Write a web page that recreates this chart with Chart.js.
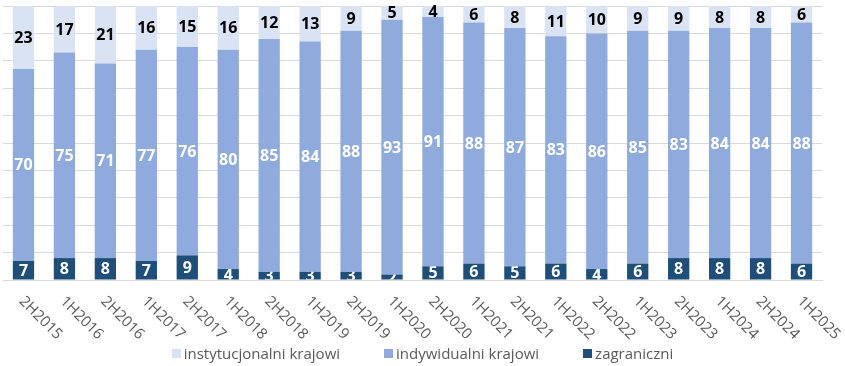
<!DOCTYPE html>
<html>
<head>
<meta charset="utf-8">
<script src="https://cdn.jsdelivr.net/npm/chart.js@4.4.1/dist/chart.umd.min.js"></script>
<style>
  body { margin: 0; background: #fff; }
  #wrap { position: relative; width: 845px; height: 366px; }
  #legend {
    position: absolute; left: 0; right: 0; top: 343px;
    display: flex; justify-content: center;
    font-family: "Open Sans", sans-serif; font-size: 15px; color: #595959;
    line-height: 20px;
  }
  .item { display: flex; align-items: center; margin: 0 22px; }
  .box { width: 9px; height: 9px; margin-right: 3px; }
</style>
</head>
<body>
<div id="wrap">
  <canvas id="chart" width="845" height="366"></canvas>
  <div id="legend"></div>
</div>
<script>
// 半期ごとの投資家構成 (%)
const categories = [
  "2H2015", "1H2016", "2H2016", "1H2017", "2H2017", "1H2018", "2H2018",
  "1H2019", "2H2019", "1H2020", "2H2020", "1H2021", "2H2021", "1H2022",
  "2H2022", "1H2023", "2H2023", "1H2024", "2H2024", "1H2025",
];
const zagraniczni = [7, 8, 8, 7, 9, 4, 3, 3, 3, 2, 5, 6, 5, 6, 4, 6, 8, 8, 8, 6];
const indywidualni = [70, 75, 71, 77, 76, 80, 85, 84, 88, 93, 91, 88, 87, 83, 86, 85, 83, 84, 84, 88];
const instytucjonalni = [23, 17, 21, 16, 15, 16, 12, 13, 9, 5, 4, 6, 8, 11, 10, 9, 9, 8, 8, 6];
const yMax = 100;
const yStep = 10;

const FONT = '"Open Sans", sans-serif';

/**
 * セグメント内に値を描画（白い文字はセグメントの範囲で切り抜き）
 */
const segmentLabels = {
  id: "segmentLabels",
  afterDatasetsDraw(chart) {
    const ctx = chart.ctx;
    chart.data.datasets.forEach((ds, i) => {
      const meta = chart.getDatasetMeta(i);
      meta.data.forEach((bar, j) => {
        const { x, y, base, width } = bar.getProps(["x", "y", "base", "width"], true);
        const top = Math.min(y, base);
        const h = Math.abs(base - y);
        ctx.save();
        if (ds.clipLabel) {
          ctx.beginPath();
          ctx.rect(x - width / 2, top, width, h);
          ctx.clip();
        }
        ctx.fillStyle = ds.labelColor;
        ctx.font = "bold 16px " + FONT;
        ctx.textAlign = "center";
        ctx.textBaseline = "middle";
        ctx.fillText(ds.data[j], x, top + h / 2 + 1);
        ctx.restore();
      });
    });
  },
};

/**
 * X軸ラベルを右下方向に45度回転して描画
 */
const slantedTicks = {
  id: "slantedTicks",
  afterDraw(chart) {
    const ctx = chart.ctx;
    const xScale = chart.scales.x;
    const bottom = chart.chartArea.bottom;
    ctx.save();
    ctx.fillStyle = "#595959";
    ctx.font = "15px " + FONT;
    ctx.textAlign = "left";
    ctx.textBaseline = "middle";
    categories.forEach((label, i) => {
      const x = xScale.getPixelForTick(i);
      ctx.save();
      ctx.translate(x - 2, bottom + 19);
      ctx.rotate(Math.PI / 4);
      ctx.fillText(label, 0, 0);
      ctx.restore();
    });
    ctx.restore();
  },
};

const datasets = [
  { label: "zagraniczni", data: zagraniczni, backgroundColor: "#1F4E79", labelColor: "#ffffff", clipLabel: true },
  { label: "indywidualni krajowi", data: indywidualni, backgroundColor: "#8FAADC", labelColor: "#ffffff", clipLabel: true },
  { label: "instytucjonalni krajowi", data: instytucjonalni, backgroundColor: "#DAE3F3", labelColor: "#000000", clipLabel: false },
];

const ctx = document.getElementById("chart").getContext("2d");
new Chart(ctx, {
  type: "bar",
  data: {
    labels: categories,
    datasets: datasets.map((d) => ({
      label: d.label,
      data: d.data,
      backgroundColor: d.backgroundColor,
      labelColor: d.labelColor,
      clipLabel: d.clipLabel,
      borderWidth: 0,
      categoryPercentage: 1,
      barPercentage: 0.52,
    })),
  },
  options: {
    responsive: false,
    animation: false,
    layout: { padding: { top: 6, left: 3, right: 23, bottom: 0 } },
    scales: {
      x: {
        stacked: true,
        grid: { display: false },
        border: { color: "#D9D9D9" },
        ticks: { display: false },
        afterFit(scale) { scale.height = 86; },
      },
      y: {
        stacked: true,
        min: 0,
        max: yMax,
        ticks: { display: false, stepSize: yStep },
        grid: { color: "#D9D9D9", drawTicks: false },
        border: { display: false },
        afterFit(scale) { scale.width = 0; },
      },
    },
    plugins: {
      legend: { display: false },
      tooltip: { enabled: false },
    },
  },
  plugins: [segmentLabels, slantedTicks],
});

// 凡例（上の系列から順に）
const legendDiv = document.getElementById("legend");
legendDiv.innerHTML = datasets
  .slice()
  .reverse()
  .map((d) => `<div class="item"><span class="box" style="background:${d.backgroundColor}"></span>${d.label}</div>`)
  .join("");
</script>
</body>
</html>
